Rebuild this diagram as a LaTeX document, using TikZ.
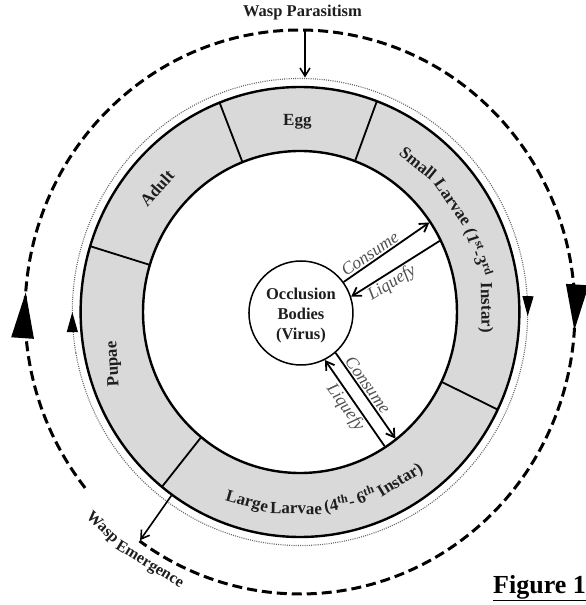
\documentclass[tikz,border=0pt]{standalone}
\usepackage{fontspec}
\setmainfont{Liberation Serif}
\usetikzlibrary{arrows.meta,decorations.markings}
\definecolor{ringfill}{RGB}{217,217,217}
\definecolor{inkgray}{RGB}{80,80,80}
\definecolor{dotgray}{RGB}{100,100,100}
\definecolor{textblack}{RGB}{30,30,30}
\newlength\wordlen
\newcommand\measureword[2]{\pgfinterruptpicture\settowidth{\wordlen}{#1#2}\global\wordlen=\wordlen\endpgfinterruptpicture}
\newcommand\arcwords[6]{% #1 baseline radius, #2 centre angle, #3 sign (+1 ccw, -1 cw), #4 name prefix, #5 font, #6 words
  \xdef\arctot{0}%
  \foreach \w in {#6} {\measureword{#5}{\w}\pgfmathsetmacro\arct{\arctot+\wordlen+4.5}\xdef\arctot{\arct}}%
  \pgfmathsetmacro\arcstart{#2 - #3*(\arctot-4.5)*0.5*57.29578/#1}%
  \xdef\arcoff{0}%
  \foreach \w [count=\i] in {#6} {%
    \measureword{#5}{\w}%
    \pgfmathsetmacro\ang{\arcstart + #3*(\arcoff + 0.5*\wordlen)*57.29578/#1}%
    \pgfmathsetmacro\rot{\ang + #3*90}%
    \node[bold, font=#5, anchor=base, rotate=\rot] (#4\i) at (\ang:#1pt) {\w};%
    \pgfmathsetmacro\newoff{\arcoff + \wordlen + 4.5}%
    \xdef\arcoff{\newoff}%
  }%
}
\newcommand\segfont{\fontsize{17}{20}\selectfont\bfseries}
\newcommand\waspfont{\fontsize{16}{20}\selectfont\bfseries}
\begin{document}
\begin{tikzpicture}[x=1pt,y=1pt,
  bold/.style={font=\segfont, text=textblack, inner sep=0pt},
  ital/.style={font=\fontsize{17.5}{20}\selectfont\itshape, text=inkgray, inner sep=1.5pt},
  ringline/.style={line width=2.4pt},
  divider/.style={line width=1.8pt},
  flow/.style={line width=1.8pt, -{Straight Barb[length=8pt,width=10pt]}},
  wasparrow/.style={line width=1.6pt, -{Straight Barb[length=8pt,width=10pt]}},
  ]
\useasboundingbox (-300,-293) rectangle (286,312);
\begin{scope}[xscale=0.975]
  % dotted life-cycle circle
  \draw[dotgray, line width=1.1pt, dash pattern=on 1pt off 1.2pt,
    postaction={decorate}, decoration={markings,
      mark=at position 0.028 with {\arrow{Triangle[length=20pt,width=11pt,color=black]}},
      mark=at position 0.531 with {\arrow{Triangle[length=20pt,width=11pt,color=black]}}}]
    (190:233.5pt) arc[start angle=190, end angle=-170, radius=233.5pt];
  % ring
  \fill[ringfill, even odd rule] (0,0) circle[radius=225pt] (0,0) circle[radius=161pt];
  \draw[ringline] (0,0) circle[radius=225pt];
  \draw[ringline] (0,0) circle[radius=161pt];
  \foreach \a in {69.5,111.5,163,231,-25.7}
    \draw[divider] (\a:161pt) -- (\a:225pt);
  % dashed wasp cycle
  \draw[line width=3pt, dash pattern=on 10pt off 5pt,
    postaction={decorate}, decoration={markings,
      mark=at position 0.125 with {\arrow{Triangle[length=46pt,width=22pt]}},
      mark=at position 0.647 with {\arrow{Triangle[length=46pt,width=22pt]}}}]
    (218.6:282pt) arc[start angle=218.6, end angle=-125.7, radius=282pt];
  % occlusion bodies
  \node[circle, draw, line width=1.5pt, minimum size=104pt, inner sep=0pt, fill=white] (ob) at (1,-1) {};
  \node[bold, align=center, font=\fontsize{16.5}{20}\selectfont\bfseries] (obtext) at (1,-4) {Occlusion\\Bodies\\(Virus)};
  % ring end points of the flows
  \coordinate (r1) at (34:160pt);
  \coordinate (r2) at (26.4:160pt);
  \coordinate (r3) at (-52.3:160pt);
  \coordinate (r4) at (-57.1:160pt);
  \draw[flow] (ob.36.9) -- node[ital, sloped, above, pos=0.36] {Consume} (r1);
  \draw[flow] (r2) -- node[ital, sloped, below, pos=0.6] {Liquefy} (ob.18.4);
  \draw[flow] (ob.-49.4) -- node[ital, sloped, above, pos=0.43] {Consume} (r3);
  \draw[flow] (r4) -- node[ital, sloped, below, pos=0.52] {Liquefy} (ob.-63.9);
  % segment labels
  \node[bold] (egg) at (90.8:190pt) {Egg};
  \node[bold, rotate=48] (adult) at (139.8:192pt) {Adult};
  \node[bold, rotate=93] (pupae) at (195.2:198pt) {Pupae};
  \arcwords{186}{25.4}{-1}{sl}{\segfont}{Small,Larvae,{(1\textsuperscript{st}-3\textsuperscript{rd}},Instar)}
  \arcwords{202}{278.2}{1}{ll}{\segfont}{Large,Larvae,{(4\textsuperscript{th}-},{6\textsuperscript{th}},Instar)}
  % wasp emergence
  \coordinate (we1) at (234.3:226pt);
  \coordinate (we2) at (234.3:281pt);
  \draw[wasparrow] (we1) -- (we2);
  \arcwords{300}{234.5}{1}{we}{\waspfont}{Wasp,Emergence}
\end{scope}
% wasp parasitism
\node[bold, font=\fontsize{16.5}{20}\selectfont\bfseries] (wp) at (2.5,299) {Wasp Parasitism};
\coordinate (wp1) at (5,281);
\coordinate (wp2) at (5,234.5);
\draw[wasparrow] (wp1) -- (wp2);
% caption
\node[font=\fontsize{26}{30}\selectfont\bfseries, anchor=base west, inner sep=0pt] (fig) at (193,-281) {\underline{Figure 1}};
\end{tikzpicture}
\end{document}
